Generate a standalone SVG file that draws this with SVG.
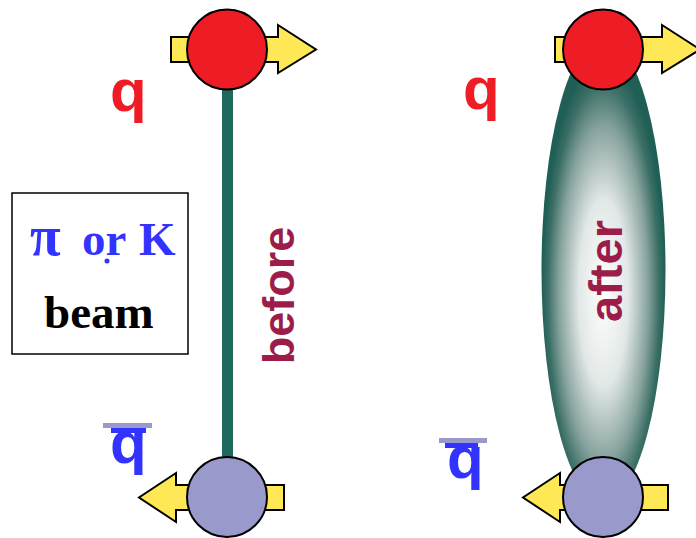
<svg xmlns="http://www.w3.org/2000/svg" width="696" height="538" viewBox="0 0 696 538">
<defs>
<radialGradient id="glow" cx="0.5" cy="0.55" r="0.5">
<stop offset="0" stop-color="#ffffff"/>
<stop offset="0.4" stop-color="#e2e8e7"/>
<stop offset="0.72" stop-color="#86a29d"/>
<stop offset="0.9" stop-color="#3a6e65"/>
<stop offset="1" stop-color="#1f5f55"/>
</radialGradient>
</defs>
<style>
.arrow{fill:#ffe855;stroke:#000;stroke-width:2;stroke-linejoin:miter}
.q{fill:#ee1c24;stroke:#000;stroke-width:2}
.qbar{fill:#9999cc;stroke:#000;stroke-width:2}
.lab{font-family:"Liberation Sans",Arial,sans-serif;font-weight:bold}
.red{fill:#ee1c24}
.blue{fill:#3333ff}
.ser{font-family:"Liberation Serif","Times New Roman",serif;font-weight:bold;font-size:47px}
.rot{font-family:"Liberation Sans",Arial,sans-serif;font-weight:bold;fill:#9c1d4a}
</style>
<rect width="696" height="538" fill="#ffffff"/>

<g id="connectors">
<rect x="222" y="85" width="11" height="377" fill="#1d6a5c"/>
<ellipse cx="603.5" cy="270" rx="62" ry="232" fill="url(#glow)"/>
</g>

<g id="beam-box">
<rect x="12" y="193" width="176" height="161" fill="#ffffff" stroke="#000" stroke-width="1.5"/>
<text class="ser blue" y="255"><tspan x="30" font-size="56">π</tspan><tspan x="82">or</tspan><tspan x="139">K</tspan></text>
<circle cx="107" cy="261" r="2.5" fill="#3333ff"/>
<text class="ser" x="44" y="328" fill="#000">beam</text>
</g>

<g id="label-before">
<text class="rot" font-size="45" text-anchor="middle" transform="translate(294,295.5) rotate(-90)">before</text>
</g>
<g id="label-after">
<text class="rot" font-size="47" text-anchor="middle" transform="translate(622,271) rotate(-90)">after</text>
</g>

<g id="q-left">
<polygon class="arrow" points="171,37 278,37 278,25 316,49.5 278,73 278,62 171,62"/>
<circle class="q" cx="227" cy="49.5" r="40"/>
<text class="lab red" x="110" y="111" font-size="60">q</text>
</g>

<g id="qbar-left">
<polygon class="arrow" points="284,485 176,485 176,473 139,497.5 176,522 176,510 284,510"/>
<circle class="qbar" cx="227" cy="497" r="40"/>
<rect x="103" y="423" width="49" height="5" fill="#9999cc"/>
<rect x="111" y="428" width="35" height="5" fill="#3333ff"/>
<text class="lab blue" x="110" y="463" font-size="60">q</text>
</g>

<g id="q-right">
<polygon class="arrow" points="555,37 662,37 662,25 700,49.5 662,73 662,62 555,62"/>
<circle class="q" cx="603" cy="49.5" r="40"/>
<text class="lab red" x="463" y="109" font-size="60">q</text>
</g>

<g id="qbar-right">
<polygon class="arrow" points="668,485 560,485 560,473 523,497.5 560,522 560,510 668,510"/>
<circle class="qbar" cx="603" cy="497" r="40"/>
<rect x="439" y="438" width="48" height="5" fill="#9999cc"/>
<rect x="445" y="443" width="33" height="5" fill="#3333ff"/>
<text class="lab blue" x="447" y="478" font-size="60">q</text>
</g>
</svg>
